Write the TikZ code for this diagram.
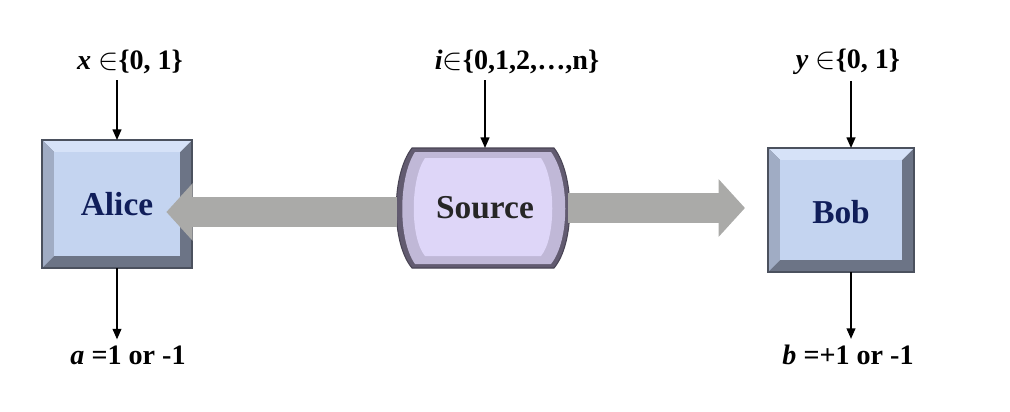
\documentclass[tikz,border=0pt]{standalone}
\usepackage{fontspec}
\setmainfont{Liberation Serif}
\usetikzlibrary{positioning}
\usetikzlibrary{arrows.meta}
\usetikzlibrary{calc}
\definecolor{facebl}{RGB}{196,212,240}
\definecolor{topbl}{RGB}{214,226,248}
\definecolor{leftbl}{RGB}{160,172,196}
\definecolor{darkbl}{RGB}{108,116,134}
\definecolor{facevi}{RGB}{222,214,248}
\definecolor{darkvi}{RGB}{122,114,140}
\definecolor{navy}{RGB}{16,30,90}
\definecolor{beam}{RGB}{170,170,168}
\tikzset{
  lbl/.style={font=\bfseries\fontsize{16}{18}\selectfont},
  party/.style={font=\bfseries\fontsize{19}{22}\selectfont},
  tick/.style={-{Triangle[width=5pt,length=6pt]},line width=0.9pt},
  beamarr/.style={-{Triangle[width=32pt,length=15pt]},line width=17pt,beam,shorten >=4pt}
}
% bevelled box: centre, half width, half height
\newcommand{\bevbox}[3]{%
  \fill[darkbl] ($#1+(-#2,-#3)$) rectangle ($#1+(#2,#3)$);
  \fill[topbl] ($#1+(-#2,-#3)$) -- ($#1+(#2,-#3)$) -- ($#1+(#2-12,-#3+12)$) -- ($#1+(-#2+12,-#3+12)$) -- cycle;
  \fill[leftbl] ($#1+(-#2,-#3)$) -- ($#1+(-#2+12,-#3+12)$) -- ($#1+(-#2+12,#3-12)$) -- ($#1+(-#2,#3)$) -- cycle;
  \fill[facebl] ($#1+(-#2+12,-#3+12)$) rectangle ($#1+(#2-12,#3-12)$);
  \draw[darkbl!70!black,line width=0.6pt] ($#1+(-#2,-#3)$) rectangle ($#1+(#2,#3)$);
}
\begin{document}
\begin{tikzpicture}[x=0.02cm,y=-0.02cm]
\useasboundingbox (0,0) rectangle (1010,412);
% boxes
\bevbox{(117,204)}{75}{64}
\bevbox{(841,210)}{73}{62}
\node[party,text=navy] (alice) at (117,204) {Alice};
\node[party,text=navy] (bob) at (841,212) {Bob};
% source
\fill[darkvi!80!black] (412,148) -- (554,148) .. controls (575,175) and (575,243) .. (554,268) -- (412,268) .. controls (391,243) and (391,175) .. (412,148) -- cycle;
\fill[facevi!70!darkvi] (415,152) -- (551,152) .. controls (570,178) and (570,240) .. (551,264) -- (415,264) .. controls (398,240) and (398,178) .. (415,152) -- cycle;
\fill[facevi] (425,158) -- (541,158) .. controls (556,180) and (556,238) .. (541,256) -- (425,256) .. controls (410,238) and (410,180) .. (425,158) -- cycle;
\draw[darkvi!60!black,line width=0.6pt] (412,148) -- (554,148) .. controls (575,175) and (575,243) .. (554,268) -- (412,268) .. controls (391,243) and (391,175) .. (412,148) -- cycle;
\node[party,text=black!85] (src) at (485,208) {Source};
\coordinate (srcL) at (397,212);
\coordinate (srcR) at (568,208);
\coordinate (bobL) at (752,208);
% beams
\draw[beamarr] (srcL) -- (alice.east |- srcL);
\draw[beamarr] (srcR) -- (bobL);
% inputs and outputs
\node[lbl] (x) at (130,62) {\textit{x} $\in$\{0, 1\}};
\node[lbl] (i) at (517,62) {\textit{i}$\in$\{0,1,2,\dots,n\}};
\node[lbl] (y) at (848,62) {\textit{y} $\in$\{0, 1\}};
\node[lbl] (a) at (128,355) {\textit{a} =1 or -1};
\node[lbl] (b) at (848,355) {\textit{b} =+1 or -1};
\coordinate (aliceT) at (117,140);
\coordinate (aliceB) at (117,268);
\coordinate (bobT) at (851,148);
\coordinate (bobB) at (851,272);
\coordinate (srcT) at (485,148);
\draw[tick] (aliceT |- x.south) -- (aliceT);
\draw[tick] (srcT |- i.south) -- (srcT);
\draw[tick] (bobT |- y.south) -- (bobT);
\draw[tick] (aliceB) -- (aliceB |- a.north);
\draw[tick] (bobB) -- (bobB |- b.north);
\end{tikzpicture}
\end{document}
